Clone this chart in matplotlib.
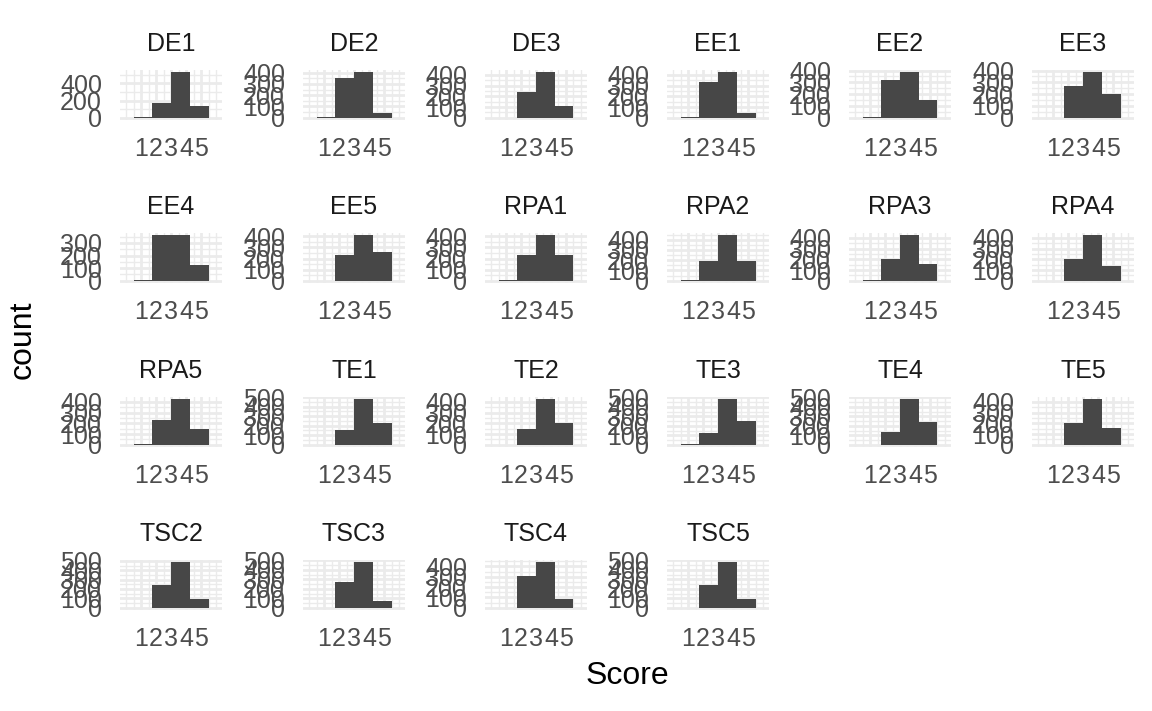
import matplotlib
matplotlib.use("Agg")
import matplotlib.pyplot as plt
import numpy as np

plt.rcParams['font.family'] = ['Liberation Sans', 'DejaVu Sans']

# ---------------- data ----------------
items = ["DE1", "DE2", "DE3", "EE1", "EE2", "EE3",
         "EE4", "EE5", "RPA1", "RPA2", "RPA3", "RPA4",
         "RPA5", "TE1", "TE2", "TE3", "TE4", "TE5",
         "TSC2", "TSC3", "TSC4", "TSC5"]

# histogram bin edges (Score) and counts per bin for each item
bin_edges = [0.5, 1.75, 3.0, 4.25, 5.5]
bin1 = [4, 3, 0, 3, 2, 1, 2, 2, 4, 5, 4, 2, 6, 1, 0, 3, 1, 1, 0, 0, 0, 0]
bin2 = [175, 352, 238, 336, 320, 270, 360, 234, 235, 190, 206, 206, 228,
        151, 148, 122, 133, 200, 241, 272, 306, 240]
bin3 = [530, 404, 425, 425, 385, 385, 361, 410, 410, 443, 425, 425, 425,
        478, 425, 480, 480, 425, 485, 480, 440, 480]
bin4 = [133, 44, 110, 43, 150, 200, 126, 258, 230, 190, 160, 140, 144,
        225, 203, 250, 243, 160, 96, 72, 88, 96]

x_breaks = [1, 2, 3, 4, 5]
x_labels = ["1", "2", "3", "4", "5"]

# ---------------- layout ----------------
W, H = 1152, 711
fig = plt.figure(figsize=(W / 100, H / 100), dpi=100)

ncol = 6
col_left = [120, 303, 485, 667, 849, 1032]
pw = 102
row_top = [70, 233, 397, 560]
ph = 50

bar_color = "#474747"
grid_color = "#EBEBEB"
tick_color = "#4D4D4D"
strip_color = "#1A1A1A"
fs_small = 18
fs_title = 23

edges = np.array(bin_edges)
centers = (edges[:-1] + edges[1:]) / 2
widths = np.diff(edges)
xlim = (-0.4, 6.4)

for i, name in enumerate(items):
    r, c = divmod(i, ncol)
    x0 = col_left[c]
    y0 = row_top[r]
    ax = fig.add_axes([x0 / W, 1 - (y0 + ph) / H, pw / W, ph / H])
    counts = [bin1[i], bin2[i], bin3[i], bin4[i]]
    ax.bar(centers, counts, width=widths, color=bar_color, linewidth=0,
           zorder=3, align='center')
    M = max(counts)
    lo, hi = -0.05 * M, 1.05 * M
    ax.set_ylim(lo, hi)
    ax.set_xlim(*xlim)

    step = 200 if M > 500 else 100
    major_y = np.arange(0, hi + 1e-9, step)
    minor_y = np.arange(-step / 2, hi + step, step)
    minor_y = [v for v in minor_y if lo <= v <= hi]
    ax.set_yticks(major_y)
    ax.set_yticklabels([str(int(v)) for v in major_y])
    ax.set_yticks(minor_y, minor=True)

    ax.set_xticks(x_breaks)
    ax.set_xticklabels(x_labels)
    minor_x = [0, 0.5, 1.5, 2.5, 3.5, 4.5, 5.5, 6]
    ax.set_xticks(minor_x, minor=True)

    ax.grid(which='major', color=grid_color, lw=2.0, zorder=0)
    ax.grid(which='minor', color=grid_color, lw=1.0, zorder=0)
    ax.set_axisbelow(True)
    for s in ax.spines.values():
        s.set_visible(False)
    ax.tick_params(which='both', length=0)
    ax.tick_params(axis='x', which='major', pad=12, labelsize=fs_small,
                   labelcolor=tick_color)
    ax.tick_params(axis='y', which='major', pad=13, labelsize=fs_small,
                   labelcolor=tick_color)
    ax.annotate(name, xy=(0.5, 1), xycoords='axes fraction',
                xytext=(0, 18.4), textcoords='offset points',
                ha='center', va='center', fontsize=fs_small,
                color=strip_color)

fig.text(23 / W, 1 - 340 / H, "count", rotation=90, ha='center',
         va='center', fontsize=fs_title, color='black')
fig.text(627 / W, 1 - 676 / H, "Score", ha='center', va='center',
         fontsize=fs_title, color='black')

fig.savefig("out.png", dpi=100, facecolor='white')
